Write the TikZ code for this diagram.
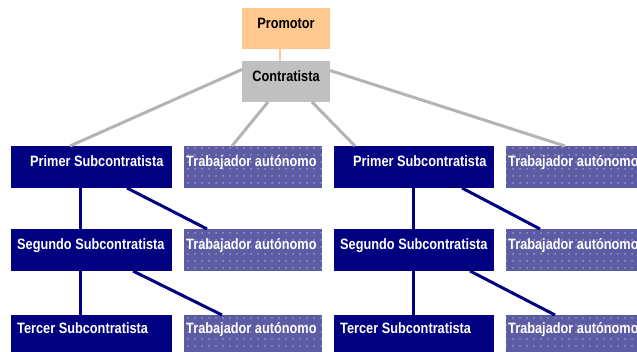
\documentclass[tikz,border=0pt]{standalone}
\usepackage{fontspec}
\setmainfont{Liberation Sans}[FakeStretch=0.85]
\usetikzlibrary{patterns.meta,calc}
\definecolor{navy}{HTML}{000080}
\definecolor{trab}{HTML}{5C5CA4}
\definecolor{promo}{HTML}{FFC88F}
\definecolor{contr}{HTML}{C0C0C0}
\definecolor{gline}{HTML}{B4B4B4}
\tikzset{
  box/.style={rectangle, inner sep=0pt, outer sep=0pt, minimum height=42pt, anchor=north west},
  subbox/.style={box, fill=navy, minimum width=161pt},
  trabbox/.style={box, minimum width=138pt, fill=trab, preaction={fill=trab},
     postaction={pattern={Dots[distance=6.5pt, radius=0.7pt]}, pattern color=white!85!trab}},
  wtxt/.style={inner sep=0pt, anchor=base west, text=white, font=\bfseries\fontsize{15}{16}\selectfont},
  btxt/.style={inner sep=0pt, text=black, font=\bfseries\fontsize{15}{16}\selectfont},
  gl/.style={draw=gline, line width=3pt},
  nl/.style={draw=navy, line width=3pt},
}
\begin{document}
\begin{tikzpicture}[x=1pt,y=-1pt]
\useasboundingbox (0,0) rectangle (637,352);
\fill[white] (0,0) rectangle (637,352);
\begin{scope}
\clip (0,0) rectangle (637,352);
% top boxes
\node[box, fill=promo, minimum width=88pt, minimum height=41pt] (P) at (242,8) {};
\node[box, fill=contr, minimum width=88pt, minimum height=41pt] (C) at (242,61) {};
\node[btxt] (Pt) at (286,23) {Promotor};
\node[btxt] (Ct) at (286,76) {Contratista};
% connectors top
\draw[draw=promo, line width=2pt] ([xshift=-6pt]P.south) -- ([xshift=-6pt]C.north);
% left column
\node[subbox] (L1) at (11,146) {};
\node[subbox] (L2) at (11,229) {};
\node[subbox] (L3) at (11,315) {};
\node[trabbox] (LT1) at (184,146) {};
\node[trabbox] (LT2) at (184,229) {};
\node[trabbox] (LT3) at (184,315) {};
% right column
\node[subbox, minimum width=160pt] (R1) at (334,146) {};
\node[subbox, minimum width=160pt] (R2) at (334,229) {};
\node[subbox, minimum width=160pt] (R3) at (334,315) {};
\node[trabbox] (RT1) at (506,146) {};
\node[trabbox] (RT2) at (506,229) {};
\node[trabbox] (RT3) at (506,315) {};
% gray connectors
\draw[gl] ([yshift=12pt]C.west) -- ([xshift=-21.5pt]L1.north);
\draw[gl] ([xshift=-18pt]C.south) -- ([xshift=-21pt]LT1.north);
\draw[gl] ([xshift=26pt]C.south) -- ([xshift=-59pt]R1.north);
\draw[gl] ([yshift=11pt]C.east) -- ([xshift=-10pt]RT1.north);
% navy connectors
\draw[nl] (L1.south west) ++(69,0) coordinate (a1) -- (a1 |- L2.north);
\draw[nl] (L2.south west) ++(69,0) coordinate (a2) -- (a2 |- L3.north);
\draw[nl] (L1.south west) ++(116,0) coordinate (b1) -- ($(LT2.north west)+(23,0)$) coordinate (c1);
\draw[nl] (L2.south west) ++(122,0) coordinate (b2) -- ($(LT3.north west)+(38,0)$) coordinate (c2);
\draw[nl] (R1.south west) ++(79,0) coordinate (d1) -- (d1 |- R2.north);
\draw[nl] (R2.south west) ++(79,0) coordinate (d2) -- (d2 |- R3.north);
\draw[nl] (R1.south west) ++(128,0) coordinate (e1) -- ($(RT2.north west)+(34,0)$) coordinate (f1);
\draw[nl] (R2.south west) ++(136,0) coordinate (e2) -- ($(RT3.north west)+(49,0)$) coordinate (f2);
% texts
\node[wtxt] (L1t) at (30,167) {Primer Subcontratista};
\node[wtxt] (L2t) at (17,250) {Segundo Subcontratista};
\node[wtxt] (L3t) at (17,334) {Tercer Subcontratista};
\node[wtxt] (R1t) at (353,167) {Primer Subcontratista};
\node[wtxt] (R2t) at (340,250) {Segundo Subcontratista};
\node[wtxt] (R3t) at (340,334) {Tercer Subcontratista};
\node[wtxt] (LT1t) at (186,167) {Trabajador autónomo};
\node[wtxt] (LT2t) at (186,250) {Trabajador autónomo};
\node[wtxt] (LT3t) at (186,334) {Trabajador autónomo};
\node[wtxt] (RT1t) at (508,167) {Trabajador autónomo};
\node[wtxt] (RT2t) at (508,250) {Trabajador autónomo};
\node[wtxt] (RT3t) at (508,334) {Trabajador autónomo};
\end{scope}
\end{tikzpicture}
\end{document}
